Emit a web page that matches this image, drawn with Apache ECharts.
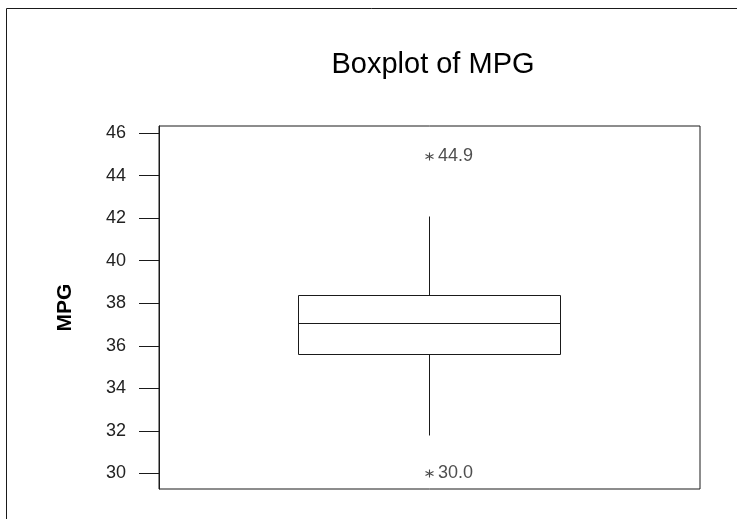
<!DOCTYPE html>
<html>
<head>
<meta charset="utf-8">
<script src="https://cdn.jsdelivr.net/npm/echarts@6/dist/echarts.min.js"></script>
<style>html,body{margin:0;padding:0;background:#fff}#c{width:737px;height:519px}</style>
</head>
<body>
<div id="c"></div>
<script>
const categories = ['MPG'];
const boxStats = [31.8, 35.6, 37.05, 38.4, 42.1]; // lower whisker, Q1, median, Q3, upper whisker
const outliers = [44.9, 30.0];
const yTicks = [30, 32, 34, 36, 38, 40, 42, 44, 46];
const titleText = 'Boxplot of MPG';
const yName = 'MPG';

const font = 'Arial, "Liberation Sans", Helvetica, sans-serif';
const ink = '#1a1a1a';
const chart = echarts.init(document.getElementById('c'), null, {renderer: 'canvas'});
const asterisk = 'path://M0,-4L0,4M-3.6,-2L3.6,2M-3.6,2L3.6,-2';
const boxHalf = 131;

function renderBox(params, api) {
  const cat = api.value(0);
  const lo = api.coord([cat, api.value(1)]);
  const q1 = api.coord([cat, api.value(2)]);
  const md = api.coord([cat, api.value(3)]);
  const q3 = api.coord([cat, api.value(4)]);
  const hi = api.coord([cat, api.value(5)]);
  const x = Math.floor(lo[0]) + 0.5;
  const st = {stroke: ink, lineWidth: 1, fill: null};
  const r = v => Math.round(v) + 0.5;
  return {
    type: 'group',
    children: [
      {type: 'line', shape: {x1: x, y1: r(hi[1]), x2: x, y2: r(q3[1])}, style: st},
      {type: 'line', shape: {x1: x, y1: r(q1[1]), x2: x, y2: r(lo[1])}, style: st},
      {type: 'rect', shape: {x: x - boxHalf, y: r(q3[1]), width: 2 * boxHalf, height: Math.round(q1[1]) - Math.round(q3[1])}, style: {stroke: ink, lineWidth: 1, fill: '#fff'}},
      {type: 'line', shape: {x1: x - boxHalf, y1: r(md[1]), x2: x + boxHalf, y2: r(md[1])}, style: st}
    ]
  };
}

chart.setOption({
  backgroundColor: '#fff',
  animation: false,
  title: {
    text: titleText, left: 428, top: 45, textAlign: 'center',
    textStyle: {fontFamily: font, fontSize: 29, fontWeight: 'normal', color: '#000'}
  },
  grid: {left: 159, top: 126, right: 37, bottom: 30, show: true, borderColor: ink, borderWidth: 1, backgroundColor: 'transparent'},
  xAxis: {
    type: 'category', data: categories,
    axisLine: {show: false}, axisTick: {show: false}, axisLabel: {show: false}, splitLine: {show: false}
  },
  yAxis: {
    type: 'value', min: 29.27, max: 46.33,
    name: yName, nameLocation: 'middle', nameGap: 83, nameRotate: 90,
    nameTextStyle: {fontFamily: font, fontSize: 21, fontWeight: 'bold', color: '#000'},
    axisLine: {show: true, lineStyle: {color: ink, width: 1}},
    axisTick: {show: true, length: 20, customValues: yTicks, lineStyle: {color: ink, width: 1}},
    axisLabel: {customValues: yTicks, margin: 33, fontFamily: font, fontSize: 18, color: '#222'},
    splitLine: {show: false}
  },
  series: [
    {
      type: 'custom',
      renderItem: renderBox,
      data: [[0].concat(boxStats)],
      encode: {x: 0, y: [1, 2, 3, 4, 5]},
      silent: true
    },
    {
      type: 'scatter',
      data: outliers.map(v => [0, v]),
      symbol: asterisk, symbolSize: [8, 8],
      itemStyle: {color: 'none', borderColor: ink, borderWidth: 1.1},
      label: {
        show: true, position: 'right', distance: 2,
        formatter: p => p.value[1].toFixed(1),
        fontFamily: font, fontSize: 18, color: '#222'
      },
      silent: true
    }
  ],
  graphic: [
    {type: 'line', shape: {x1: 6.5, y1: 8.5, x2: 737, y2: 8.5}, style: {stroke: ink, lineWidth: 1}},
    {type: 'line', shape: {x1: 6.5, y1: 8.5, x2: 6.5, y2: 519}, style: {stroke: ink, lineWidth: 1}}
  ]
});
</script>
</body>
</html>
